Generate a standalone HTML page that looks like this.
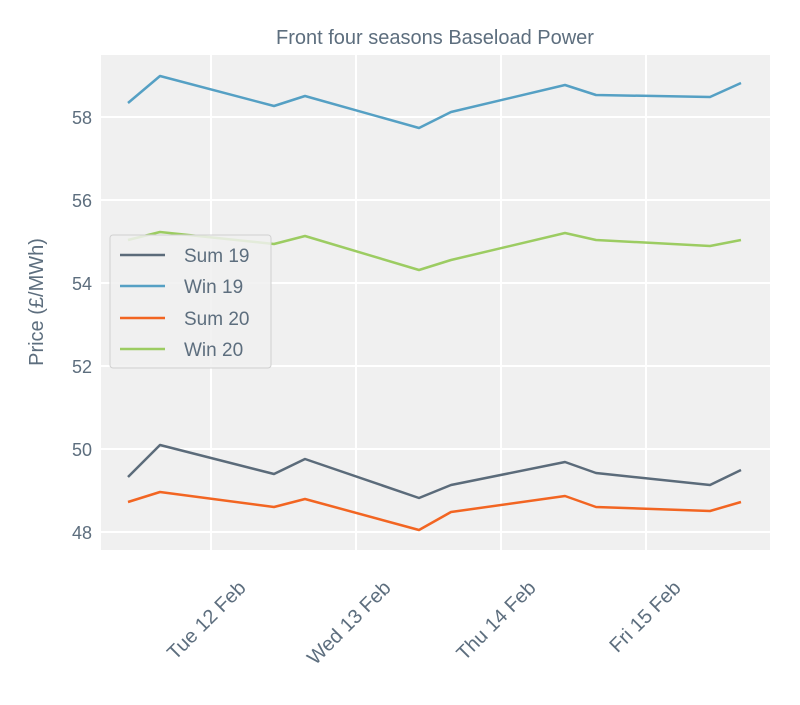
<!DOCTYPE html><html><head><style>body{margin:0;background:#fff}</style></head><body>
<svg width="800" height="700" xmlns="http://www.w3.org/2000/svg" font-family="Liberation Sans, sans-serif" fill="#5d6e7e">
<rect x="101" y="55" width="669" height="495" fill="#f0f0f0"/>
<g stroke="#fff" stroke-width="2">
<line x1="211" y1="55" x2="211" y2="550"/><line x1="356" y1="55" x2="356" y2="550"/><line x1="501" y1="55" x2="501" y2="550"/><line x1="646" y1="55" x2="646" y2="550"/>
<line x1="101" y1="117" x2="770" y2="117"/><line x1="101" y1="200" x2="770" y2="200"/><line x1="101" y1="283" x2="770" y2="283"/><line x1="101" y1="366" x2="770" y2="366"/><line x1="101" y1="449" x2="770" y2="449"/><line x1="101" y1="532" x2="770" y2="532"/>
</g>
<g fill="none" stroke-width="2.5" stroke-linejoin="round">
<polyline stroke="#55a0c4" points="128,103 160,76 274,106 305,96 419,128 451,112 565,85 596,95 710,97 741,83"/>
<polyline stroke="#9ccc62" points="128,240 160,232 274,244 305,236 419,270 451,260 565,233 596,240 710,246 741,240"/>
<polyline stroke="#5b6b7a" points="128,477 160,445 274,474 305,459 419,498 451,485 565,462 596,473 710,485 741,470"/>
<polyline stroke="#f26522" points="128,502 160,492 274,507 305,499 419,530 451,512 565,496 596,507 710,511 741,502"/>
</g>
<g font-size="18" text-anchor="end">
<text x="92" y="124">58</text><text x="92" y="207">56</text><text x="92" y="290">54</text><text x="92" y="373">52</text><text x="92" y="456">50</text><text x="92" y="539">48</text>
</g>
<text x="435" y="44" font-size="20" text-anchor="middle">Front four seasons Baseload Power</text>
<text transform="translate(43,302) rotate(-90)" font-size="20" text-anchor="middle">Price (£/MWh)</text>
<g font-size="20" text-anchor="end">
<text transform="translate(247,589) rotate(-45)">Tue 12 Feb</text>
<text transform="translate(392,589) rotate(-45)">Wed 13 Feb</text>
<text transform="translate(537,589) rotate(-45)">Thu 14 Feb</text>
<text transform="translate(682,589) rotate(-45)">Fri 15 Feb</text>
</g>
<rect x="110" y="235" width="161" height="133" rx="3" fill="#f0f0f0" fill-opacity="0.85" stroke="#d0d0d0"/>
<g stroke-width="2.5">
<line x1="120" y1="255" x2="165" y2="255" stroke="#5b6b7a"/>
<line x1="120" y1="286" x2="165" y2="286" stroke="#55a0c4"/>
<line x1="120" y1="318" x2="165" y2="318" stroke="#f26522"/>
<line x1="120" y1="349" x2="165" y2="349" stroke="#9ccc62"/>
</g>
<g font-size="19">
<text x="184" y="262">Sum 19</text><text x="184" y="293">Win 19</text><text x="184" y="325">Sum 20</text><text x="184" y="356">Win 20</text>
</g>
</svg></body></html>
